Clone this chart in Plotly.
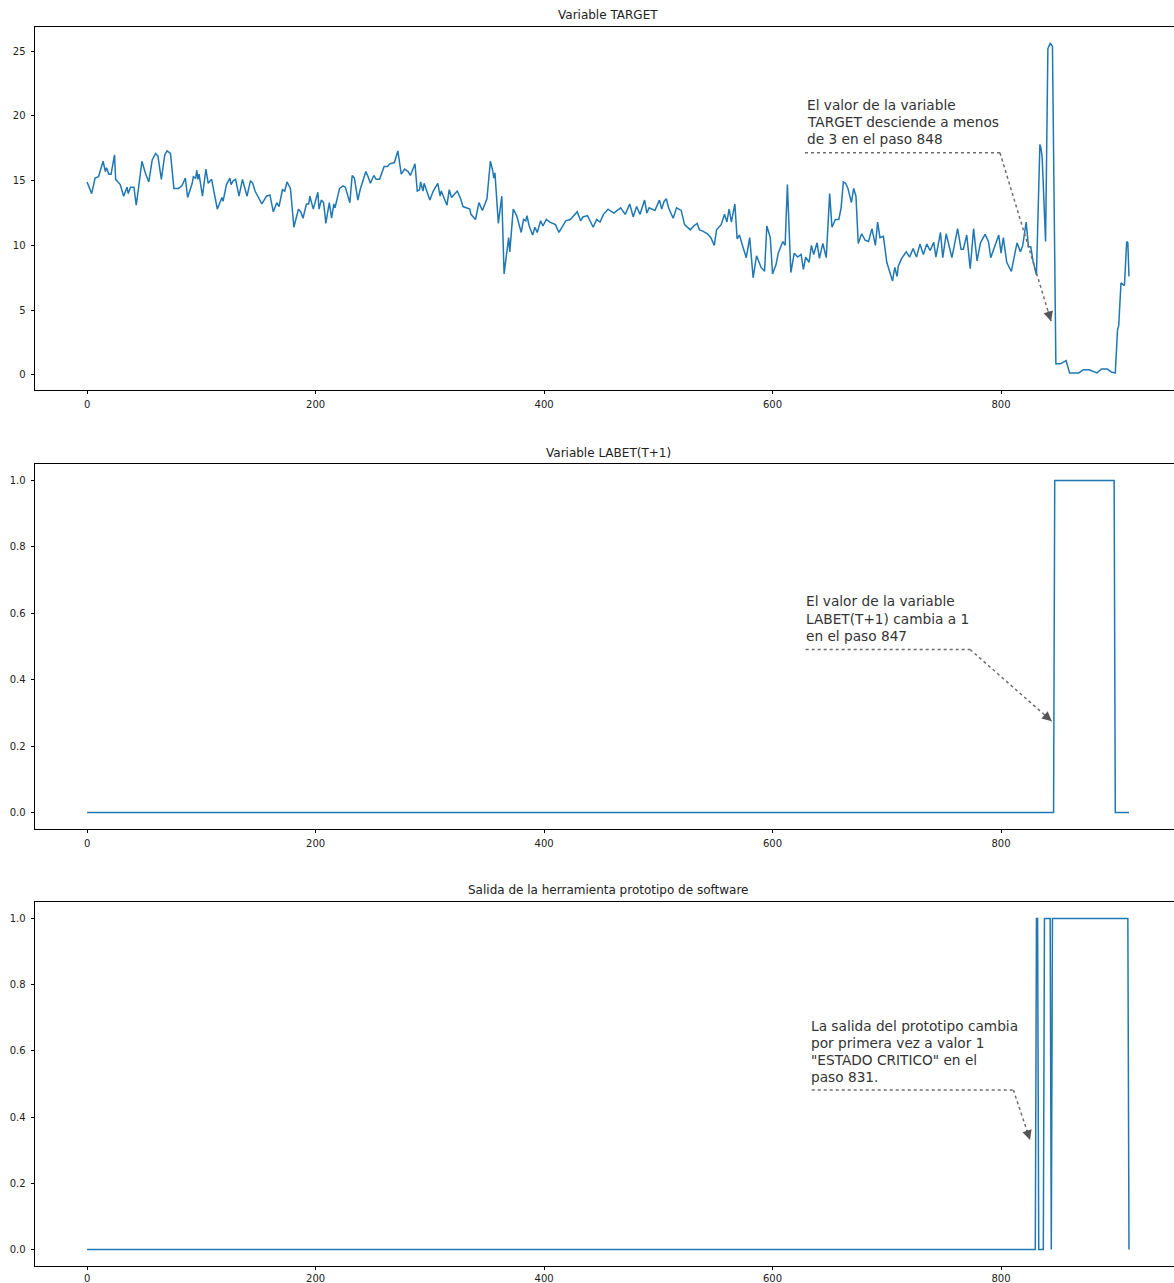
import plotly.graph_objects as go

# ---------------- data ----------------
target_steps = [0, 4, 7, 10, 14, 16, 17, 19, 21, 24, 25, 29, 32, 35, 36, 38, 41, 43, 45, 48,
                51, 54, 57, 60, 62, 65, 68, 70, 73, 76, 80, 83, 86, 88, 92, 93, 95, 96, 97, 98,
                101, 104, 106, 109, 114, 118, 119, 122, 125, 126, 128, 130, 133, 136, 140, 143, 145, 147, 153, 157,
                160, 163, 166, 168, 171, 173, 175, 178, 181, 185, 187, 189, 192, 194, 195, 198, 202, 203, 205, 207,
                209, 212, 214, 216, 217, 221, 224, 226, 230, 232, 234, 237, 239, 241, 244, 246, 248, 251, 253, 256,
                260, 263, 265, 269, 272, 275, 278, 281, 283, 287, 289, 291, 292, 294, 295, 300, 303, 307, 309, 310,
                315, 317, 319, 324, 327, 329, 332, 335, 336, 340, 343, 346, 350, 353, 355, 356, 357, 360, 363, 365,
                369, 370, 373, 376, 380, 382, 384, 385, 387, 390, 392, 394, 397, 399, 402, 405, 410, 413, 419, 423,
                429, 432, 434, 438, 443, 446, 449, 452, 456, 461, 467, 471, 475, 478, 481, 484, 488, 490, 492, 497,
                501, 503, 505, 507, 509, 513, 516, 520, 523, 528, 531, 534, 536, 539, 543, 546, 549, 551, 555, 558,
                560, 562, 564, 567, 569, 571, 574, 577, 580, 583, 586, 590, 593, 595, 598, 600, 603, 605, 609, 611,
                613, 616, 619, 622, 625, 627, 629, 632, 634, 636, 639, 641, 644, 647, 650, 652, 655, 658, 660, 662,
                664, 666, 669, 671, 673, 675, 678, 681, 684, 687, 690, 692, 694, 697, 700, 703, 705, 707, 709, 710,
                713, 717, 720, 723, 726, 729, 732, 735, 738, 741, 743, 747, 749, 752, 755, 757, 762, 765, 767, 770,
                773, 776, 779, 782, 786, 789, 791, 794, 798, 800, 802, 805, 809, 814, 817, 819, 822, 824, 826, 828,
                831, 834, 835, 836, 839, 841, 843, 845, 848, 852, 857, 860, 868, 872, 877, 884, 888, 893, 897, 900,
                902, 903, 905, 908, 910, 911, 912]
target_vals = [14.9, 14.0, 15.2, 15.3, 16.5, 15.7, 16.0, 15.5, 15.5, 17.0, 15.1, 14.7, 13.8, 14.5, 14.0, 14.5, 14.5, 13.1, 14.4, 16.5,
               15.6, 14.9, 16.6, 17.1, 16.9, 15.1, 17.0, 17.3, 17.1, 14.4, 14.4, 14.6, 15.2, 13.7, 14.8, 15.3, 15.2, 15.8, 15.1, 15.5,
               13.8, 15.9, 14.8, 15.1, 12.8, 13.7, 13.4, 14.7, 15.2, 14.7, 15.0, 15.1, 13.8, 15.1, 13.8, 15.0, 14.8, 14.2, 13.2, 13.8,
               13.9, 12.6, 13.3, 13.0, 14.3, 14.2, 14.9, 14.4, 11.4, 12.8, 12.6, 12.1, 13.2, 13.2, 13.8, 12.8, 14.1, 12.8, 13.5, 13.3,
               11.7, 13.3, 12.1, 13.2, 12.9, 14.4, 14.6, 14.5, 13.3, 15.4, 15.2, 13.5, 14.3, 14.9, 15.7, 15.3, 14.8, 15.4, 15.1, 15.1,
               16.1, 16.1, 16.3, 16.4, 17.3, 15.5, 15.9, 15.7, 15.4, 16.3, 14.2, 14.3, 14.9, 14.2, 14.8, 13.5, 14.2, 14.8, 13.8, 14.2,
               13.1, 14.3, 13.7, 14.2, 13.6, 13.0, 12.9, 12.8, 12.4, 12.0, 13.3, 12.7, 13.6, 16.5, 15.8, 15.2, 15.6, 11.7, 13.8, 7.8,
               10.6, 9.5, 12.8, 12.3, 11.0, 12.0, 11.9, 12.3, 11.5, 10.8, 11.4, 11.0, 11.9, 11.5, 12.0, 11.8, 11.6, 11.0, 11.9, 12.0,
               12.6, 11.9, 12.2, 12.3, 11.4, 12.0, 11.8, 12.4, 12.8, 12.5, 12.9, 12.4, 13.2, 12.2, 13.0, 12.4, 13.5, 12.5, 12.9, 12.7,
               13.5, 12.8, 13.4, 13.6, 12.9, 12.1, 12.9, 12.7, 11.6, 11.2, 11.5, 11.7, 11.2, 11.1, 10.9, 10.6, 10.0, 11.2, 11.6, 12.4,
               11.8, 12.8, 11.8, 13.2, 10.5, 10.8, 9.9, 9.05, 10.6, 7.5, 9.2, 8.3, 8.0, 11.5, 10.6, 7.8, 8.5, 9.4, 10.3, 10.0,
               14.7, 7.9, 9.4, 9.1, 9.3, 8.15, 9.1, 8.7, 10.0, 9.3, 10.2, 9.0, 10.15, 9.05, 14.0, 11.4, 12.0, 12.0, 12.9, 14.9,
               14.8, 14.4, 13.3, 14.4, 13.8, 10.15, 10.9, 10.4, 10.3, 11.3, 10.0, 11.8, 10.6, 10.7, 8.7, 7.9, 7.25, 8.3, 7.6, 8.4,
               9.0, 9.5, 9.1, 9.75, 9.1, 10.1, 9.3, 10.1, 9.6, 10.25, 9.1, 11.0, 9.05, 10.9, 9.7, 9.05, 11.3, 9.7, 9.7, 10.8,
               8.2, 11.3, 8.8, 10.2, 10.85, 10.3, 9.05, 9.8, 10.8, 9.4, 10.6, 8.7, 8.0, 10.2, 9.5, 10.0, 11.8, 9.9, 9.9, 8.8,
               7.7, 17.8, 17.5, 16.8, 10.3, 25.2, 25.6, 25.4, 0.85, 0.85, 1.1, 0.15, 0.15, 0.4, 0.4, 0.15, 0.45, 0.45, 0.2, 0.15,
               3.5, 3.8, 7.1, 6.9, 10.3, 10.2, 7.6]

labet_steps = [0, 846, 847, 899, 900, 912]
labet_vals = [0, 0, 1, 1, 0, 0]

proto_steps = [0, 830, 831, 832, 833, 837, 838, 843, 844, 845, 911, 912]
proto_vals = [0, 0, 1, 1, 0, 0, 1, 1, 0, 1, 1, 0]

titles = ["Variable TARGET", "Variable LABET(T+1)", "Salida de la herramienta prototipo de software"]
notes = [
    ["El valor de la variable", "TARGET desciende a menos", "de 3 en el paso 848"],
    ["El valor de la variable", "LABET(T+1) cambia a 1", "en el paso 847"],
    ["La salida del prototipo cambia", "por primera vez a valor 1", "\"ESTADO CRITICO\" en el", "paso 831."],
]
x_ticks = [0, 200, 400, 600, 800]
y_ticks_target = [0, 5, 10, 15, 20, 25]
y_ticks_bin = [0.0, 0.2, 0.4, 0.6, 0.8, 1.0]

# ---------------- layout helpers ----------------
W, H = 1174, 1283
LINE = "#1f77b4"
FONT = "DejaVu Sans"
TXT = "#333333"
DOT = "#6e6e6e"

# plot boxes in pixels (top, bottom)
boxes = [(27, 390), (464, 829), (902, 1266)]
yranges = [[-1.17, 26.87], [-0.05, 1.05], [-0.05, 1.05]]
xrange_ = [-45.6, 951.4]
x_standoff = [2, 2, 0]

fig = go.Figure()
series = [(target_steps, target_vals), (labet_steps, labet_vals), (proto_steps, proto_vals)]
for i, (xs, ys) in enumerate(series):
    sfx = "" if i == 0 else str(i + 1)
    fig.add_trace(go.Scatter(x=xs, y=ys, mode="lines", line=dict(color=LINE, width=1.5),
                             xaxis="x" + sfx, yaxis="y" + sfx, showlegend=False, hoverinfo="skip"))

axis_common = dict(showgrid=False, zeroline=False, showline=True, linecolor="black", linewidth=0.8,
                   ticks="outside", ticklen=3.5, tickwidth=0.8, tickcolor="black",
                   tickfont=dict(family=FONT, size=10, color="#222222"), automargin=False)

layout = dict(width=W, height=H, margin=dict(l=0, r=0, t=0, b=0),
              paper_bgcolor="white", plot_bgcolor="white", showlegend=False)
for i, (top, bot) in enumerate(boxes):
    sfx = "" if i == 0 else str(i + 1)
    yd = [1 - bot / H, 1 - top / H]
    layout["xaxis" + sfx] = dict(axis_common, domain=[35 / W, 1.0], range=xrange_, mirror=True,
                                 tickvals=x_ticks, ticktext=[str(t) for t in x_ticks],
                                 anchor="y" + sfx, ticklabelstandoff=x_standoff[i])
    if i == 0:
        tv, tt = y_ticks_target, [str(t) for t in y_ticks_target]
    else:
        tv, tt = y_ticks_bin, ["%.1f" % t for t in y_ticks_bin]
    layout["yaxis" + sfx] = dict(axis_common, domain=yd, range=yranges[i], mirror=False,
                                 tickvals=tv, ticktext=tt, anchor="x" + sfx, ticklabelstandoff=3)
fig.update_layout(**layout)

# titles
title_y = [15, 453, 890]
for t, py in zip(titles, title_y):
    fig.add_annotation(text=t, x=608 / W, y=1 - py / H, xref="paper", yref="paper",
                       xanchor="center", yanchor="middle", showarrow=False,
                       font=dict(family=FONT, size=12, color="#222222"))

# annotation geometry (data coordinates of each axis)
ann = [
    dict(sfx="", tx=628.4, ty=[20.85, 19.54, 18.23], hy=17.15, hx0=628.4, hx1=799.1,
         tip=(843.8, 4.15), off=(-3.5, -11.5)),
    dict(sfx="2", tx=627.6, ty=[0.636, 0.584, 0.533], hy=0.491, hx0=629.0, hx1=772.9,
         tip=(844.4, 0.275), off=(-9.0, -7.9)),
    dict(sfx="3", tx=632.0, ty=[0.675, 0.623, 0.572, 0.520], hy=0.482, hx0=634.3, hx1=810.8,
         tip=(825.4, 0.331), off=(-3.8, -11.4)),
]
for a, lines in zip(ann, notes):
    xr, yr = "x" + a["sfx"], "y" + a["sfx"]
    for line_txt, yy in zip(lines, a["ty"]):
        fig.add_annotation(text=line_txt, x=a["tx"], y=yy, xref=xr, yref=yr,
                           xanchor="left", yanchor="middle", showarrow=False,
                           font=dict(family=FONT, size=13.7, color=TXT))
    # horizontal dotted segment
    fig.add_shape(type="line", xref=xr, yref=yr, x0=a["hx0"], x1=a["hx1"], y0=a["hy"], y1=a["hy"],
                  line=dict(color=DOT, width=1.5, dash="dot"))
    # diagonal dotted segment
    fig.add_shape(type="line", xref=xr, yref=yr, x0=a["hx1"], y0=a["hy"], x1=a["tip"][0], y1=a["tip"][1],
                  line=dict(color=DOT, width=1.5, dash="dot"))
    # arrow head
    fig.add_annotation(text="", x=a["tip"][0], y=a["tip"][1], xref=xr, yref=yr,
                       ax=a["off"][0], ay=a["off"][1], axref="pixel", ayref="pixel",
                       showarrow=True, arrowhead=2, arrowsize=1.6, arrowwidth=1.2,
                       arrowcolor="#555555", standoff=0)

fig.write_html("out.html", config={"displayModeBar": False},
               post_script="document.body.style.margin='0px';document.body.style.overflow='hidden';")
